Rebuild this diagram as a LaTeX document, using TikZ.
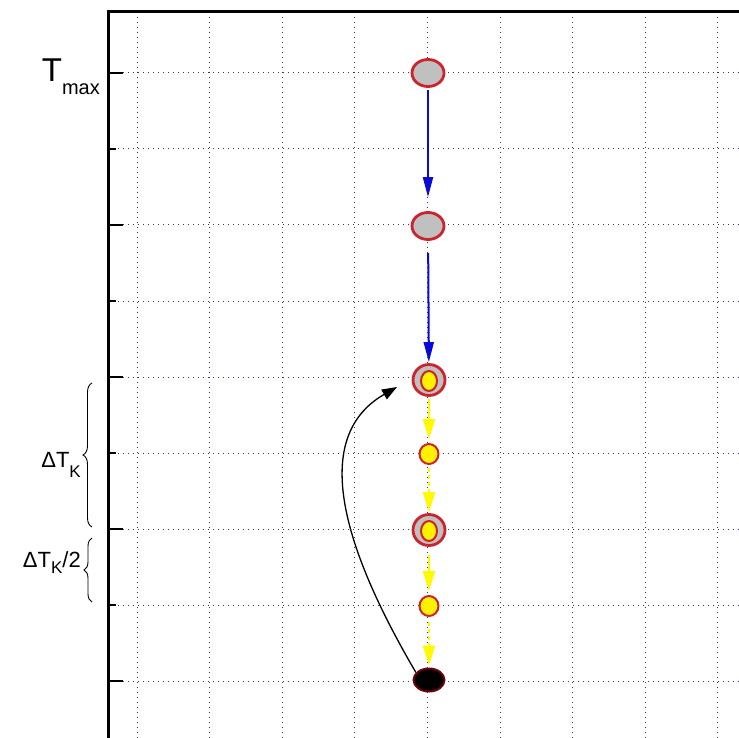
\documentclass[tikz,border=0pt]{standalone}
\usepackage{fontspec}
\setmainfont{Liberation Sans}
\usetikzlibrary{arrows.meta,shapes.geometric,decorations.pathreplacing}
\definecolor{RingRed}{RGB}{205,35,45}
\definecolor{CoreGray}{RGB}{192,192,192}
\definecolor{GridBlue}{RGB}{50,50,120}
\definecolor{FlowBlue}{RGB}{10,10,215}
\definecolor{FlowYellow}{RGB}{255,250,0}
\definecolor{DarkRed}{RGB}{110,0,10}
\newcommand{\lowtext}[3]{\raisebox{-#1pt}{\fontsize{#2}{#2}\selectfont #3}}

\begin{document}
\begin{tikzpicture}[x=1pt,y=-1pt,>=Triangle,
    grid/.style={GridBlue,dash pattern=on 1.2pt off 3.8pt,line width=1pt},
    hot/.style={ellipse,draw=RingRed,fill=CoreGray,line width=2.8pt,inner sep=0pt,
      minimum width=32pt,minimum height=27pt},
    ring/.style={hot,minimum width=32pt,minimum height=31pt},
    core/.style={ellipse,draw=RingRed,fill=yellow,line width=2pt,inner sep=0pt,
      minimum width=16pt,minimum height=20pt},
    drop/.style={core,minimum width=19pt,minimum height=20pt},
    cold/.style={ellipse,draw=DarkRed,fill=black,line width=2pt,inner sep=0pt,
      minimum width=31pt,minimum height=23pt},
    bluearrow/.style={->,FlowBlue,line width=2pt,>={Triangle[length=20pt,width=10pt]}},
    yelarrow/.style={->,FlowYellow,line width=2.2pt,>={Triangle[length=20pt,width=12pt]}},
    lbl/.style={inner sep=0pt,anchor=base east}]
  \useasboundingbox (0,0) rectangle (739,738);
  % grid
  \foreach \i in {0,...,8}
    \draw[grid] (137+72.6*\i,12) -- (137+72.6*\i,738);
  \foreach \i in {0,...,8}
    \draw[grid] (108,73+76*\i) -- (739,73+76*\i);
  % axes and ticks
  \draw[line width=3pt] (108,738) -- (108,12);
  \draw[line width=3pt] (107,12) -- (739,12);
  \foreach \i in {0,2,4,6,8}
    \draw[line width=2.5pt] (108,73+76*\i) -- (123,73+76*\i);
  \foreach \i in {1,3,5,7}
    \draw[line width=2.5pt] (108,73+76*\i) -- (116,73+76*\i);
  % states
  \node[hot] (s1) at (428,73) {};
  \node[hot] (s2) at (428,226) {};
  \node[ring] (s3) at (429,380) {};
  \node[core] (c3) at (429,381) {};
  \node[drop] (s4) at (429,454) {};
  \node[ring] (s5) at (429,530) {};
  \node[core] (c5) at (429,531) {};
  \node[drop] (s6) at (429,606) {};
  \node[cold] (s7) at (429,680) {};
  \coordinate (back) at (397,387);
  % transitions
  \draw[bluearrow,shorten <=2pt,shorten >=14pt] (s1) -- (s2);
  \draw[bluearrow,shorten <=12pt,shorten >=1pt] (s2) -- (s3);
  \draw[yelarrow,shorten <=2pt,shorten >=4pt] (s3) -- (s4);
  \draw[yelarrow,dash pattern=on 4pt off 3pt,shorten <=3pt,shorten >=1pt] (s4) -- (s5);
  \draw[yelarrow,shorten <=8pt,shorten >=4pt] (s5) -- (s6);
  \draw[yelarrow,dash pattern=on 4pt off 3pt,shorten <=5pt,shorten >=2pt] (s6) -- (s7);
  \draw[->,line width=1.3pt,>={Triangle[length=15pt,width=11pt]}]
    (s7.150) .. controls (350,560) and (305,440) .. (back);
  % labels
  \node[lbl] (tmax) at (100,82) {\fontsize{33}{33}\selectfont T\lowtext{13}{20}{max}};
  \draw[decorate,decoration={brace,amplitude=9pt},line width=0.9pt] (92,527) -- (92,383);
  \node[lbl] (dtk) at (81,467) {\fontsize{22}{22}\selectfont ΔT\lowtext{10}{17}{K}};
  \draw[decorate,decoration={brace,amplitude=8pt},line width=0.9pt] (92,602) -- (92,538);
  \node[lbl] (dtk2) at (81,567) {\fontsize{22}{22}\selectfont ΔT\lowtext{6}{17}{K}/2};
\end{tikzpicture}
\end{document}
